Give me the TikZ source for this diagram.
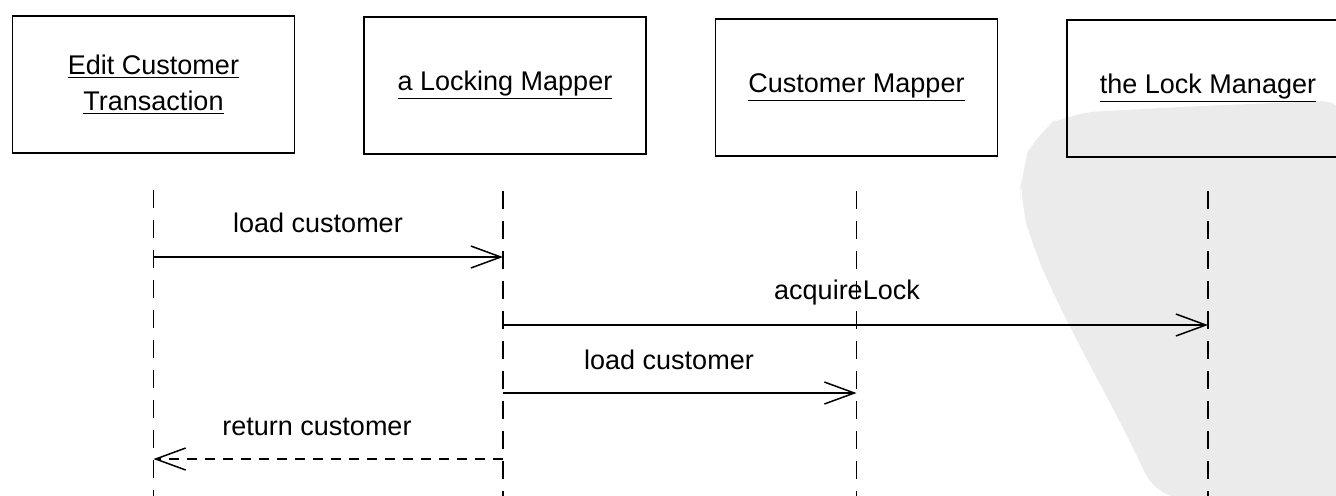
\documentclass[tikz,border=0pt]{standalone}
\usepackage{fontspec}
\setmainfont{Liberation Sans}
\usetikzlibrary{arrows.meta}

\begin{document}
\begin{tikzpicture}[
    x=0.5pt, y=-0.5pt,
    font=\fontsize{13.5}{17}\selectfont,
    obj/.style={draw=black, line width=0.8pt, minimum width=141pt, minimum height=68.5pt, align=center, inner sep=0pt},
    life/.style={line width=0.9pt, dash pattern=on 9pt off 6pt},
    msg/.style={line width=0.75pt, -{Straight Barb[length=15pt, width=11pt, line width=0.75pt]}},
    ret/.style={msg, dash pattern=on 5pt off 4pt},
    lab/.style={inner sep=0pt}
]
\useasboundingbox (0,0) rectangle (1336,495);
\clip (0,0) rectangle (1336,495);

% ---- background stamp (light grey) ----
\fill[black!8, rounded corners=15pt]
    (1021,170) -- (1035,132) -- (1068,113) -- (1200,106) -- (1350,100)
    -- (1350,500) -- (1158,500) -- (1123,427) -- (1087,360)
    -- (1053,293) -- (1032,245) -- (1020,200) -- cycle;

% ---- objects ----
\node[obj] (edit)    at (153.5,84.5) {\underline{Edit Customer}\\[1pt]\underline{Transaction}};
\node[obj] (locking) at (505,85.5)   {\underline{a Locking Mapper}};
\node[obj] (custmap) at (856.5,87.5) {\underline{Customer Mapper}};
\node[obj] (lockmgr) at (1208,88.5)  {\underline{the Lock Manager}};

% ---- lifelines ----
\draw[life] (edit.south)    ++(0,36) coordinate (edit-top)    -- ++(0,320) coordinate (edit-bot);
\draw[life] (locking.south) ++(-2,36) coordinate (locking-top) -- ++(0,320) coordinate (locking-bot);
\draw[life] (custmap.south) ++(0,34) coordinate (custmap-top) -- ++(0,320) coordinate (custmap-bot);
\draw[life] (lockmgr.south) ++(0,33) coordinate (lockmgr-top) -- ++(0,320) coordinate (lockmgr-bot);

% ---- message end points ----
\coordinate (m1a) at (edit-top |- 0,257);
\coordinate (m1b) at (locking-top |- 0,257);
\coordinate (m2a) at (locking-top |- 0,325);
\coordinate (m2b) at (lockmgr-top |- 0,325);
\coordinate (m3a) at (locking-top |- 0,393);
\coordinate (m3b) at (custmap-top |- 0,393);
\coordinate (m4a) at (locking-top |- 0,459);
\coordinate (m4b) at (edit-top |- 0,459);

% ---- messages ----
\draw[msg] (m1a) -- (m1b);
\node[lab] (l1) at (318,223) {load customer};

\draw[msg] (m2a) -- (m2b);
\node[lab] (l2) at (847,293) {acquireLock};

\draw[msg] (m3a) -- (m3b);
\node[lab] (l3) at (669,360) {load customer};

\draw[ret] (m4a) -- (m4b);
\node[lab] (l4) at (317,427) {return customer};

\end{tikzpicture}
\end{document}
